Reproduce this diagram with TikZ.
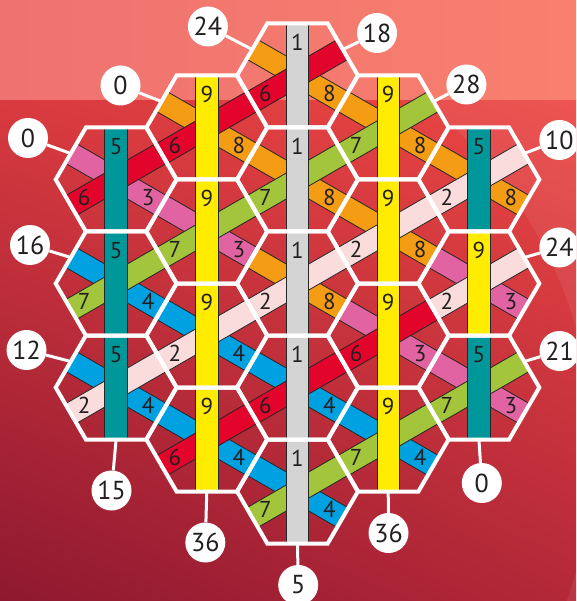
\documentclass[tikz,border=0pt]{standalone}
\usepackage{fontspec}
\setmainfont{PT Sans}
\usetikzlibrary{shadings}
\definecolor{numcol}{HTML}{231F20}
\definecolor{c1}{HTML}{D4D4D4}
\definecolor{c5}{HTML}{00979A}
\definecolor{c9}{HTML}{FFEC00}
\definecolor{c2}{HTML}{FADCDD}
\definecolor{c6}{HTML}{E3042B}
\definecolor{c7}{HTML}{A2C53C}
\definecolor{c3}{HTML}{E263A2}
\definecolor{c4}{HTML}{00A1E0}
\definecolor{c8}{HTML}{F49C14}
\definecolor{bandL}{HTML}{EE7270}
\definecolor{bandR}{HTML}{F9806E}
\definecolor{bgUL}{HTML}{D83A3F}
\definecolor{bgUR}{HTML}{EC4744}
\definecolor{bgLL}{HTML}{8E1830}
\definecolor{bgLR}{HTML}{B42838}
\tikzset{
  barline/.style={draw=black!85, line width=0.8},
  hexborder/.style={draw=white, line width=4, line join=miter},
  num/.style={inner sep=0, text=numcol, font=\fontsize{23}{23}\selectfont},
  score/.style={circle, fill=white, minimum size=40, inner sep=0, text=numcol, font=\fontsize{26}{26}\selectfont},
  conn/.style={draw=white, line width=3}
}
\newcommand\tile[6]{%
 \begin{scope}[shift={(#2,#3)}]
  \coordinate (#1) at (0,0);
  \coordinate (#1ul) at (-45.3,-26);
  \coordinate (#1ur) at (45.3,-26);
  \coordinate (#1bt) at (0,52);
  \begin{scope}
   \clip (-60.4,0) -- (-30.2,-52) -- (30.2,-52) -- (60.4,0) -- (30.2,52) -- (-30.2,52) -- cycle;
   \begin{scope}[rotate=-30]
    \fill[c#6] (-80,-11.25) rectangle (80,11.25);
    \draw[barline] (-80,-11.25) -- (80,-11.25) (-80,11.25) -- (80,11.25);
   \end{scope}
   \begin{scope}[rotate=30]
    \fill[c#5] (-80,-11.25) rectangle (80,11.25);
    \draw[barline] (-80,-11.25) -- (80,-11.25) (-80,11.25) -- (80,11.25);
   \end{scope}
   \fill[c#4] (-11.25,-60) rectangle (11.25,60);
   \draw[barline] (-11.25,-60) -- (-11.25,60) (11.25,-60) -- (11.25,60);
  \end{scope}
  \node[num] (#1v) at (0,-33) {#4};
  \node[num] (#1s) at (-32,18) {#5};
  \node[num] (#1b) at (32,18) {#6};
 \end{scope}}
\newcommand\hexb[2]{%
 \draw[hexborder, shift={(#1,#2)}] (-60.4,0) -- (-30.2,-52) -- (30.2,-52) -- (60.4,0) -- (30.2,52) -- (-30.2,52) -- cycle;}
\begin{document}
\begin{tikzpicture}[x=1pt,y=-1pt]
\useasboundingbox (0,0) rectangle (576,601);
\clip (0,0) rectangle (576,601);
\shade[upper left=bgUL, upper right=bgUR, lower left=bgLL, lower right=bgLR] (0,100) rectangle (576,601);
\fill[white, opacity=0.07, even odd rule] (0,100) rectangle (576,601) (150,450) circle (443);
\shade[left color=bandL, right color=bandR] (0,0) rectangle (576,100);
% tiles
\tile{h1a}{116.1}{179.5}{5}{6}{3}
\tile{h1b}{116.1}{283.5}{5}{7}{4}
\tile{h1c}{116.1}{387.5}{5}{2}{4}
\tile{h2a}{206.8}{127.5}{9}{6}{8}
\tile{h2b}{206.8}{231.5}{9}{7}{3}
\tile{h2c}{206.8}{335.5}{9}{2}{4}
\tile{h2d}{206.8}{439.5}{9}{6}{4}
\tile{h3a}{297.5}{75.5}{1}{6}{8}
\tile{h3b}{297.5}{179.5}{1}{7}{8}
\tile{h3c}{297.5}{283.5}{1}{2}{8}
\tile{h3d}{297.5}{387.5}{1}{6}{4}
\tile{h3e}{297.5}{491.5}{1}{7}{4}
\tile{h4a}{388.2}{127.5}{9}{7}{8}
\tile{h4b}{388.2}{231.5}{9}{2}{8}
\tile{h4c}{388.2}{335.5}{9}{6}{3}
\tile{h4d}{388.2}{439.5}{9}{7}{4}
\tile{h5a}{478.9}{179.5}{5}{2}{8}
\tile{h5b}{478.9}{283.5}{9}{2}{3}
\tile{h5c}{478.9}{387.5}{5}{7}{3}
% borders
\hexb{116.1}{179.5}\hexb{116.1}{283.5}\hexb{116.1}{387.5}
\hexb{206.8}{127.5}\hexb{206.8}{231.5}\hexb{206.8}{335.5}\hexb{206.8}{439.5}
\hexb{297.5}{75.5}\hexb{297.5}{179.5}\hexb{297.5}{283.5}\hexb{297.5}{387.5}\hexb{297.5}{491.5}
\hexb{388.2}{127.5}\hexb{388.2}{231.5}\hexb{388.2}{335.5}\hexb{388.2}{439.5}
\hexb{478.9}{179.5}\hexb{478.9}{283.5}\hexb{478.9}{387.5}
% score circles
\node[score] (s24t) at (207.9,26.5) {24};
\node[score] (s18) at (377,33) {18};
\node[score] (s0a) at (120.5,85.5) {0};
\node[score] (s28) at (466.4,84.5) {28};
\node[score] (s0b) at (28,138) {0};
\node[score] (s10) at (559.3,140) {10};
\node[score] (s16) at (30,245) {16};
\node[score] (s24r) at (559.3,247.5) {24};
\node[score] (s12) at (26.5,350) {12};
\node[score] (s21) at (559.5,351) {21};
\node[score] (s15) at (111.5,490.5) {15};
\node[score] (s0c) at (481.8,483) {0};
\node[score] (s36a) at (205.3,542.5) {36};
\node[score] (s36b) at (388.5,533) {36};
\node[score] (s5) at (298.2,585) {5};
% connectors
\draw[conn] (h3aul) -- (s24t);
\draw[conn] (h3aur) -- (s18);
\draw[conn] (h2aul) -- (s0a);
\draw[conn] (h4aur) -- (s28);
\draw[conn] (h1aul) -- (s0b);
\draw[conn] (h5aur) -- (s10);
\draw[conn] (h1bul) -- (s16);
\draw[conn] (h5bur) -- (s24r);
\draw[conn] (h1cul) -- (s12);
\draw[conn] (h5cur) -- (s21);
\draw[conn] (h1cbt) -- (s15);
\draw[conn] (h5cbt) -- (s0c);
\draw[conn] (h2dbt) -- (s36a);
\draw[conn] (h4dbt) -- (s36b);
\draw[conn] (h3ebt) -- (s5);
\end{tikzpicture}
\end{document}
